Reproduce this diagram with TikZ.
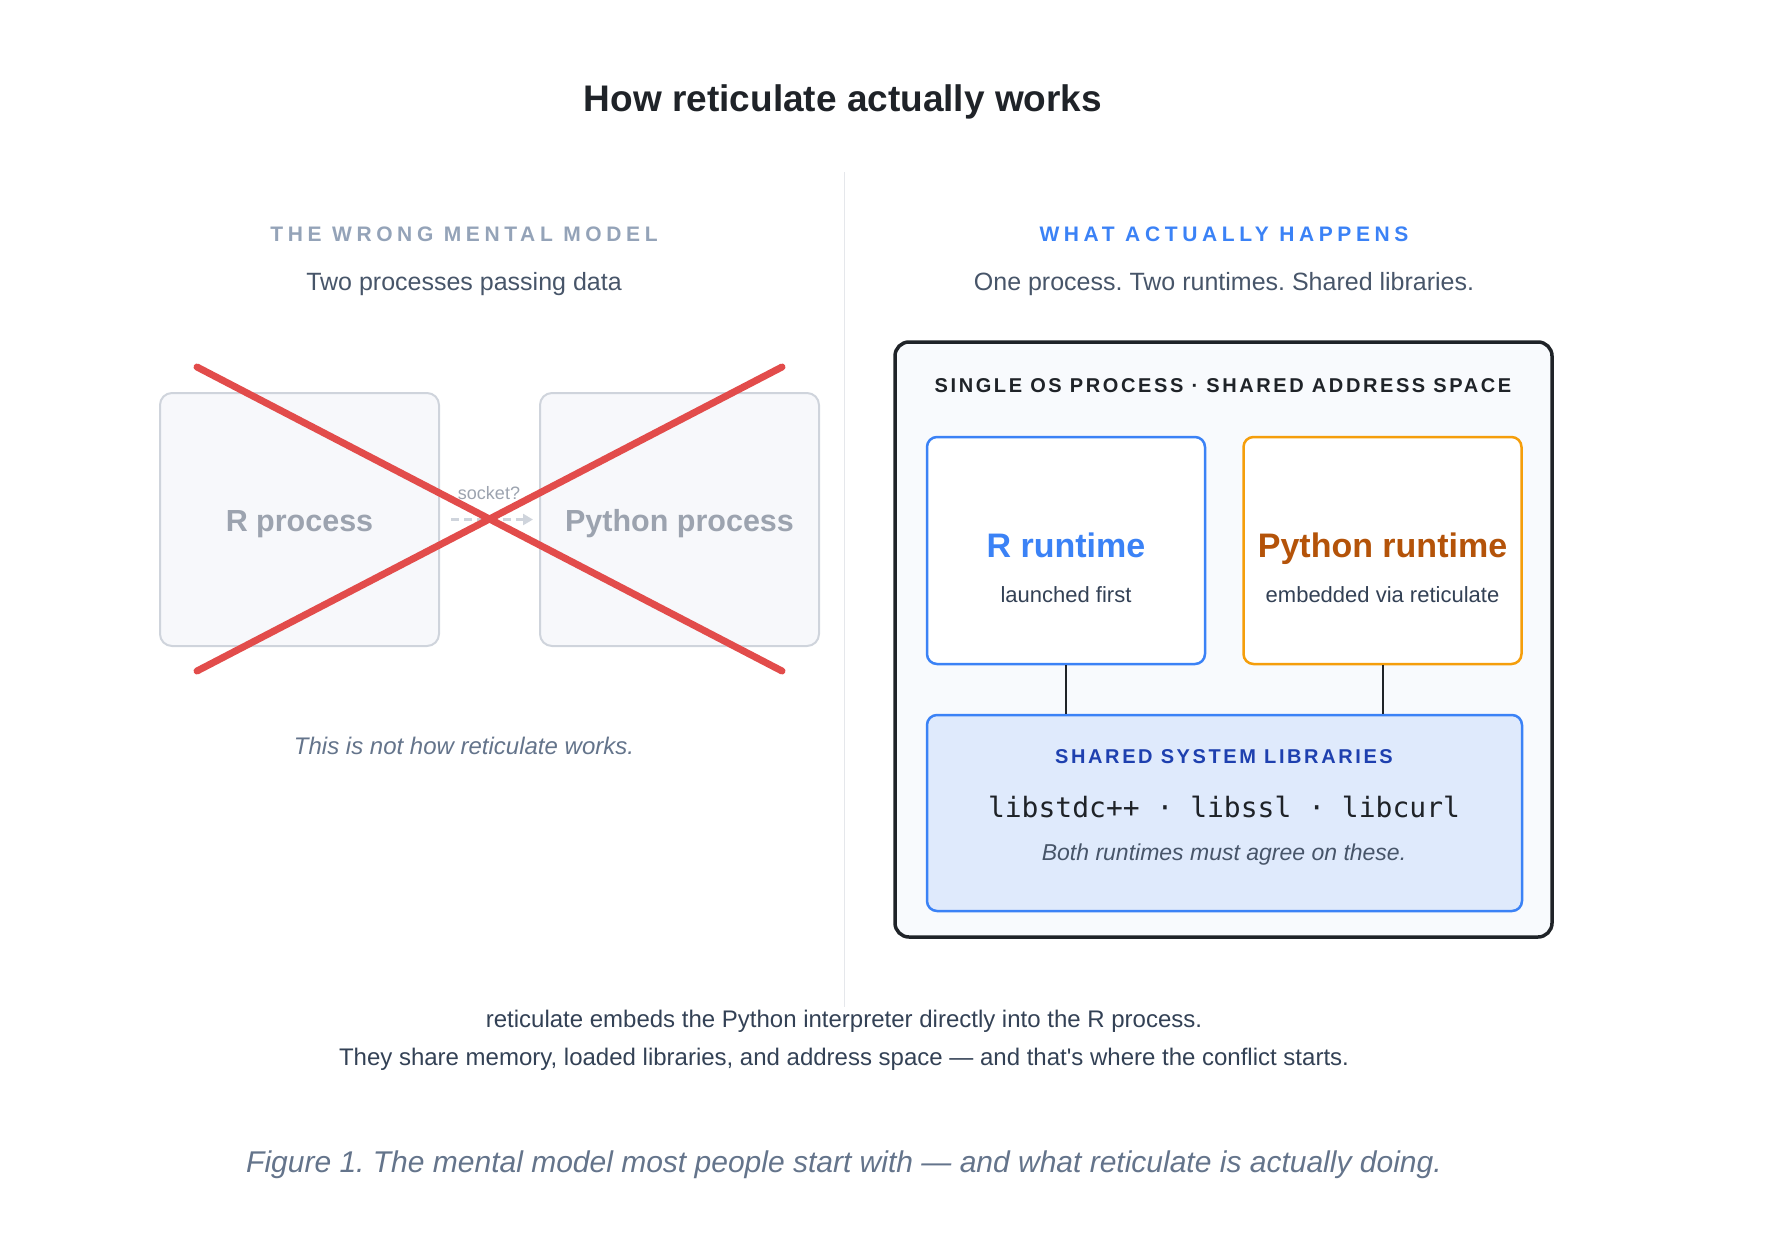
\documentclass[tikz,border=0pt]{standalone}
\usepackage{fontspec}
\setmainfont{Liberation Sans}
\setmonofont{DejaVu Sans Mono}
\newfontfamily\sectfont[LetterSpace=22]{Liberation Sans}
\newfontfamily\tagfont[LetterSpace=13]{Liberation Sans}
\usetikzlibrary{arrows.meta}
\frenchspacing

\definecolor{inkdark}{HTML}{1F2328}
\definecolor{slatefour}{HTML}{94A3B8}
\definecolor{slatefive}{HTML}{64748B}
\definecolor{slatesix}{HTML}{475569}
\definecolor{slateseven}{HTML}{334155}
\definecolor{ghostline}{HTML}{CFD4DC}
\definecolor{ghostfill}{HTML}{F7F8FB}
\definecolor{ghosttext}{HTML}{9CA3AF}
\definecolor{crossred}{HTML}{E24C4B}
\definecolor{accentblue}{HTML}{3B82F6}
\definecolor{pyorange}{HTML}{F59E0B}
\definecolor{pybrown}{HTML}{B45309}
\definecolor{libblue}{HTML}{1E40AF}
\definecolor{libfill}{HTML}{DFEAFC}
\definecolor{procfill}{HTML}{F8FAFD}
\definecolor{rulegrey}{HTML}{E5E7EB}

\newcommand{\pxfont}[1]{\fontsize{#1}{#1}\selectfont}

\tikzset{
  titletext/.style={text=inkdark, font=\pxfont{37}\bfseries},
  secthead/.style={font=\sectfont\pxfont{21}\bfseries},
  subtext/.style={text=slatesix, font=\pxfont{25}},
  ghostbox/.style={draw=ghostline, fill=ghostfill, line width=2pt, rounded corners=12pt,
    minimum width=279pt, minimum height=253pt},
  ghostlabel/.style={text=ghosttext, font=\pxfont{30.5}\bfseries},
  sockettext/.style={text=ghosttext, font=\pxfont{18}},
  socketarrow/.style={draw=ghostline, line width=3pt, dash pattern=on 8pt off 5pt,
    -{Triangle[length=10pt,width=11pt]}},
  crossline/.style={draw=crossred, line width=7pt, line cap=round},
  notetext/.style={text=slatesix, font=\pxfont{23}\itshape},
  procbox/.style={draw=inkdark, fill=procfill, line width=3.5pt, rounded corners=14pt,
    minimum width=657pt, minimum height=595pt},
  boxhead/.style={text=inkdark, font=\tagfont\pxfont{20}\bfseries},
  runbox/.style={fill=white, line width=2.5pt, rounded corners=10pt,
    minimum width=278pt, minimum height=227pt},
  runtitle/.style={anchor=base, font=\pxfont{34}\bfseries},
  runnote/.style={anchor=base, text=slateseven, font=\pxfont{22}},
  libbox/.style={draw=accentblue, fill=libfill, line width=2.5pt, rounded corners=10pt,
    minimum width=595pt, minimum height=196pt},
  monotext/.style={text=inkdark, font=\ttfamily\pxfont{28}},
  link/.style={draw=inkdark, line width=2pt},
  bodytext/.style={text=slateseven, font=\pxfont{24}},
  captext/.style={text=slatefive, font=\pxfont{30}\itshape},
}

\begin{document}
\begin{tikzpicture}[x=1pt,y=-1pt]
 \useasboundingbox (0,0) rectangle (1774,1234);
 \node[titletext] (title) at (843,102) {How reticulate actually works};
 \draw[rulegrey, line width=1pt] (844,172) coordinate (ruletop) -- (844,1007) coordinate (rulebot);

 % the wrong mental model
 \node[secthead, text=slatefour] (wronghead) at (464,234) {THE WRONG MENTAL MODEL};
 \node[subtext] (wrongsub) at (464,284) {Two processes passing data};
 \node[ghostbox] (rproc) at (299.5,519.5) {};
 \node[ghostbox] (pyproc) at (679.5,519.5) {};
 \node[ghostlabel] (rlabel) at (299.5,524) {R process};
 \node[ghostlabel] (pylabel) at (679.5,524) {Python process};
 \node[sockettext] (socket) at (489,493) {socket?};
 \draw[socketarrow] ([xshift=11pt]rproc.east) -- ([xshift=-6pt]pyproc.west);
 \draw[crossline] (197,367) coordinate (xa) -- (782,671) coordinate (xb);
 \draw[crossline] (197,671) coordinate (xc) -- (782,367) coordinate (xd);
 \node[notetext, text=slatefive, font=\pxfont{24}\itshape] (notwork) at (464,746) {This is not how reticulate works.};

 % what actually happens
 \node[secthead, text=accentblue] (righthead) at (1224,234) {WHAT ACTUALLY HAPPENS};
 \node[subtext] (rightsub) at (1224,284) {One process. Two runtimes. Shared libraries.};
 \node[procbox] (osproc) at (1223.5,639.5) {};
 \node[boxhead] (oshead) at (1223,386) {SINGLE OS PROCESS · SHARED ADDRESS SPACE};
 \node[runbox, draw=accentblue] (rrt) at (1066,550.5) {};
 \node[runbox, draw=pyorange] (pyrt) at (1382.5,550.5) {};
 \node[runtitle, text=accentblue] (rrtname) at (1066,557) {R runtime};
 \node[runnote] (rrtnote) at (1066,602) {launched first};
 \node[runtitle, text=pybrown] (pyrtname) at (1382.5,557) {Python runtime};
 \node[runnote] (pyrtnote) at (1382.5,602) {embedded via reticulate};
 \node[libbox] (libs) at (1224.5,813) {};
 \draw[link] (rrt.south) -- (rrt.south |- libs.north);
 \draw[link] (pyrt.south) -- (pyrt.south |- libs.north);
 \node[boxhead, text=libblue] (libhead) at (1224,757) {SHARED SYSTEM LIBRARIES};
 \node[monotext] (libnames) at (1224,807) {libstdc++ · libssl · libcurl};
 \node[notetext] (libnote) at (1224,855) {Both runtimes must agree on these.};

 % explanation and caption
 \node[bodytext] (explone) at (844,1021) {reticulate embeds the Python interpreter directly into the R process.};
 \node[bodytext] (expltwo) at (844,1059) {They share memory, loaded libraries, and address space — and that\textquotesingle s where the conflict starts.};
 \node[captext] (caption) at (844,1165) {Figure 1. The mental model most people start with — and what reticulate is actually doing.};
\end{tikzpicture}
\end{document}
